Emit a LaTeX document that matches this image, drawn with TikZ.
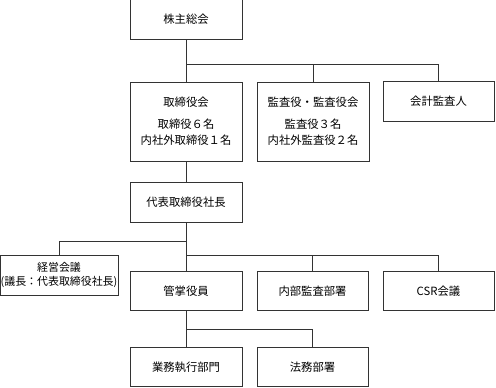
\documentclass[tikz,border=0pt]{standalone}
\usepackage{fontspec}
\setmainfont{Noto Sans CJK JP}
\begin{document}
\begin{tikzpicture}[x=0.75pt,y=-0.75pt,
  box/.style={draw=black!80, line width=0.6pt, rectangle, inner sep=0pt,
    minimum width=84pt, minimum height=29.5pt, align=center,
    font=\fontsize{8.5}{12}\selectfont},
  tall/.style={minimum height=59.25pt},
  conn/.style={draw=black!80, line width=0.6pt}]
\useasboundingbox (0,0) rectangle (496,388);
\node[box] (sh) at (186,19.5) {株主総会};
\node[box,tall] (bod) at (186,121.5) {取締役会\\[4.5pt]取締役６名\\内社外取締役１名};
\node[box,tall] (aud) at (313,121.5) {監査役・監査役会\\[4.5pt]監査役３名\\内社外監査役２名};
\node[box,minimum width=83.25pt] (acc) at (438.5,101.5) {会計監査人};
\node[box] (ceo) at (186,202.5) {代表取締役社長};
\node[box,minimum width=88.5pt,minimum height=30pt,font=\fontsize{8.2}{11}\selectfont] (mgmt) at (59,275) {経営会議\\(議長：代表取締役社長)};
\node[box] (exec) at (186,291) {管掌役員};
\node[box,minimum width=83.25pt] (ia) at (312.5,291) {内部監査部署};
\node[box,minimum width=83.25pt] (csr) at (438.5,291) {CSR会議};
\node[box] (ops) at (186,367) {業務執行部門};
\node[box,minimum width=83.25pt] (legal) at (312.5,367) {法務部署};
\coordinate (j1) at (186,64);
\coordinate (j2) at (186,241);
\coordinate (j3) at (186,255);
\coordinate (j4) at (186,329);
\draw[conn] (sh.south) -- (bod.north);
\draw[conn] (j1) -| (aud.north);
\draw[conn] (j1) -| (acc.north);
\draw[conn] (bod.south) -- (ceo.north);
\draw[conn] (ceo.south) -- (exec.north);
\draw[conn] (j2) -| (mgmt.north);
\draw[conn] (j3) -| (ia.north);
\draw[conn] (j3) -| (csr.north);
\draw[conn] (exec.south) -- (ops.north);
\draw[conn] (j4) -| (legal.north);
\end{tikzpicture}
\end{document}
